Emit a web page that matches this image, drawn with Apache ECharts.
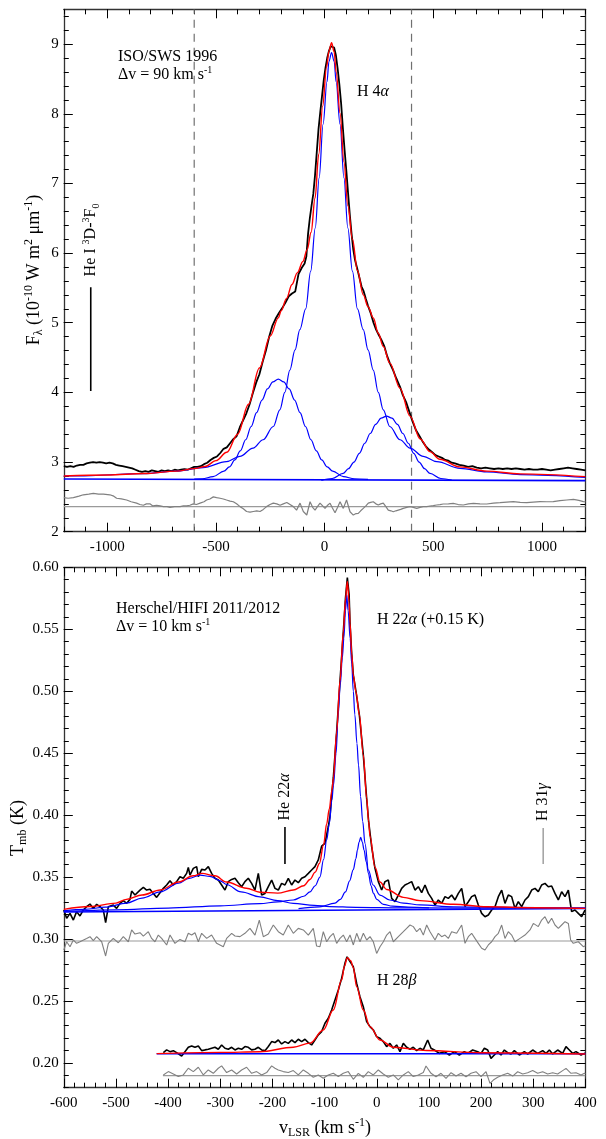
<!DOCTYPE html>
<html>
<head>
<meta charset="utf-8">
<title>H 4alpha / H 22alpha line profiles</title>
<script src="https://cdn.jsdelivr.net/npm/echarts@6.0.0/dist/echarts.min.js"></script>
<style>
  html, body { margin: 0; padding: 0; background: #fff; }
  #main { width: 606px; height: 1139px; }
</style>
</head>
<body>
<div id="main"></div>
<script>
// ---------- top panel : ISO/SWS 1996, H 4alpha ----------
var isoObs = [[-1200,2.94],[-1185,2.93],[-1170,2.94],[-1155,2.93],[-1140,2.95],[-1125,2.96],[-1110,2.96],[-1095,2.98],[-1080,2.99],[-1065,3.00],[-1050,2.99],[-1035,3.00],[-1020,2.99],[-1005,2.98],[-990,2.99],[-975,2.98],[-960,2.96],[-945,2.95],[-930,2.94],[-915,2.93],[-900,2.92],[-885,2.91],[-870,2.89],[-855,2.87],[-840,2.86],[-825,2.87],[-810,2.86],[-795,2.88],[-780,2.87],[-765,2.86],[-750,2.88],[-735,2.87],[-720,2.88],[-705,2.87],[-690,2.89],[-675,2.88],[-660,2.89],[-645,2.90],[-630,2.89],[-615,2.91],[-600,2.93],[-585,2.93],[-570,2.94],[-555,2.97],[-540,2.99],[-525,3.03],[-510,3.06],[-495,3.08],[-480,3.13],[-465,3.19],[-450,3.21],[-435,3.27],[-420,3.33],[-405,3.37],[-390,3.50],[-375,3.60],[-360,3.70],[-345,3.83],[-330,3.99],[-315,4.14],[-300,4.26],[-285,4.44],[-270,4.60],[-255,4.80],[-240,4.96],[-225,5.06],[-210,5.14],[-195,5.21],[-180,5.29],[-165,5.38],[-150,5.42],[-135,5.45],[-120,5.70],[-105,5.79],[-92,5.85],[-84,5.95],[-76,6.28],[-68,6.50],[-60,6.68],[-52,6.85],[-44,7.12],[-36,7.45],[-28,7.78],[-20,8.02],[-12,8.25],[-4,8.48],[4,8.66],[12,8.80],[20,8.90],[28,8.97],[36,8.99],[44,8.95],[52,8.84],[60,8.65],[68,8.42],[76,8.15],[84,7.80],[92,7.48],[100,7.18],[108,6.86],[116,6.55],[124,6.28],[132,6.05],[140,5.90],[150,5.78],[160,5.65],[170,5.52],[180,5.45],[190,5.34],[200,5.24],[213,5.13],[225,5.00],[237,4.90],[250,4.82],[262,4.75],[275,4.66],[288,4.52],[300,4.42],[315,4.32],[330,4.20],[347,4.08],[360,3.96],[375,3.86],[390,3.72],[405,3.58],[420,3.46],[435,3.38],[450,3.30],[465,3.23],[480,3.18],[495,3.14],[510,3.10],[525,3.08],[540,3.06],[555,3.03],[570,3.02],[585,2.99],[600,2.98],[620,2.96],[640,2.95],[660,2.93],[680,2.94],[700,2.92],[720,2.91],[740,2.92],[760,2.91],[780,2.90],[800,2.91],[820,2.90],[840,2.91],[860,2.90],[880,2.91],[900,2.90],[920,2.89],[940,2.90],[960,2.89],[980,2.89],[1000,2.90],[1020,2.89],[1040,2.88],[1060,2.89],[1080,2.90],[1100,2.91],[1120,2.92],[1140,2.91],[1160,2.90],[1180,2.89],[1200,2.88]];
var isoFit = [[-1200,2.80],[-1000,2.815],[-830,2.835],[-680,2.87],[-600,2.905],[-550,2.935],[-500,3.02],[-450,3.14],[-400,3.40],[-350,3.83],[-300,4.35],[-250,4.81],[-213,5.07],[-200,5.17],[-175,5.35],[-150,5.55],[-125,5.72],[-100,5.88],[-80,6.05],[-62,6.30],[-44,6.79],[-27,7.42],[-9,8.11],[9,8.67],[20,8.90],[32,9.02],[44,8.89],[53,8.60],[71,8.01],[89,7.31],[107,6.68],[128,6.20],[151,5.75],[178,5.40],[200,5.23],[224,5.07],[247,4.85],[270,4.66],[300,4.42],[347,4.06],[393,3.66],[440,3.33],[485,3.15],[530,3.04],[623,2.93],[746,2.87],[900,2.83],[1200,2.79]];
var isoCore = [[-1200,2.80],[-1136,2.80],[-836,2.835],[-682,2.87],[-559,2.92],[-452,3.005],[-390,3.08],[-329,3.20],[-283,3.32],[-236,3.51],[-206,3.75],[-183,4.00],[-160,4.32],[-136,4.61],[-114,4.90],[-87,5.20],[-64,5.74],[-43,6.36],[-25,7.08],[-7,7.85],[11,8.46],[20,8.75],[32,8.88],[44,8.75],[53,8.46],[71,7.85],[89,7.08],[107,6.36],[128,5.74],[151,5.20],[178,4.90],[200,4.61],[224,4.32],[247,4.00],[270,3.75],[300,3.51],[347,3.32],[393,3.20],[454,3.08],[516,3.005],[623,2.91],[746,2.86],[900,2.82],[1200,2.78]];
var isoBlue = [[-600,2.755],[-563,2.76],[-513,2.79],[-463,2.87],[-438,2.93],[-413,3.03],[-388,3.16],[-363,3.32],[-338,3.51],[-313,3.71],[-288,3.89],[-263,4.05],[-238,4.15],[-213,4.19],[-188,4.15],[-163,4.05],[-138,3.89],[-113,3.71],[-88,3.51],[-63,3.32],[-38,3.16],[-13,3.03],[12,2.93],[37,2.87],[87,2.79],[137,2.76],[200,2.752]];
var isoRed = [[-15,2.737],[35,2.764],[85,2.836],[110,2.905],[135,3.00],[160,3.125],[185,3.27],[210,3.41],[235,3.54],[260,3.63],[285,3.66],[310,3.63],[335,3.54],[360,3.41],[385,3.27],[410,3.125],[435,3.00],[460,2.905],[485,2.836],[535,2.764],[585,2.74]];
var isoBase = [[-1200,2.757],[1200,2.733]];
var isoResid = [[-1200,2.49],[-1180,2.48],[-1156,2.49],[-1130,2.51],[-1110,2.53],[-1085,2.54],[-1064,2.55],[-1040,2.54],[-1018,2.54],[-988,2.53],[-970,2.51],[-957,2.48],[-935,2.47],[-911,2.455],[-890,2.43],[-865,2.41],[-850,2.39],[-834,2.38],[-820,2.40],[-804,2.40],[-790,2.37],[-773,2.38],[-757,2.37],[-742,2.36],[-725,2.36],[-711,2.35],[-690,2.36],[-665,2.36],[-650,2.37],[-635,2.37],[-620,2.38],[-604,2.40],[-590,2.39],[-573,2.41],[-555,2.43],[-543,2.455],[-528,2.47],[-512,2.50],[-497,2.49],[-481,2.48],[-466,2.47],[-451,2.455],[-435,2.44],[-420,2.43],[-405,2.40],[-389,2.36],[-374,2.33],[-359,2.29],[-343,2.28],[-328,2.29],[-312,2.30],[-297,2.29],[-282,2.32],[-267,2.36],[-251,2.39],[-236,2.41],[-220,2.40],[-205,2.38],[-190,2.40],[-174,2.42],[-159,2.39],[-144,2.36],[-129,2.31],[-113,2.41],[-98,2.29],[-82,2.24],[-67,2.43],[-55,2.35],[-44,2.31],[-33,2.36],[-21,2.41],[2,2.335],[14,2.38],[25,2.41],[36,2.34],[48,2.273],[60,2.35],[71,2.43],[86,2.335],[101,2.455],[117,2.287],[132,2.239],[145,2.26],[155,2.263],[166,2.30],[178,2.335],[190,2.37],[201,2.41],[212,2.42],[224,2.43],[236,2.40],[247,2.383],[258,2.40],[270,2.41],[282,2.36],[293,2.31],[305,2.30],[316,2.287],[328,2.30],[339,2.31],[350,2.32],[362,2.335],[378,2.35],[393,2.359],[408,2.35],[424,2.335],[439,2.35],[454,2.359],[470,2.36],[485,2.369],[500,2.375],[516,2.383],[531,2.39],[546,2.398],[570,2.40],[592,2.407],[615,2.39],[638,2.383],[662,2.40],[685,2.407],[715,2.40],[746,2.398],[777,2.41],[807,2.417],[838,2.425],[868,2.431],[900,2.42],[930,2.417],[960,2.425],[991,2.431],[1022,2.43],[1052,2.431],[1083,2.445],[1114,2.455],[1145,2.465],[1170,2.45],[1191,2.431],[1200,2.43]];
var isoResidZero = [[-1200,2.36],[1200,2.36]];
var isoWindowLeft = [[-600,2],[-600,9.5]];
var isoWindowRight = [[400,2],[400,9.5]];
var heIMark = [[-1076,4.02],[-1076,5.51]];

// ---------- bottom panel : Herschel/HIFI, H 22alpha (+0.15 K) and H 28beta ----------
var h22Obs = [[-600,0.3234],[-594.5,0.3167],[-588.1,0.3207],[-581.7,0.3153],[-575.4,0.3221],[-569,0.3186],[-562.6,0.3234],[-556.2,0.3261],[-549.8,0.3282],[-543.4,0.3247],[-537,0.328],[-530.6,0.3261],[-524.2,0.3234],[-519.8,0.3132],[-514.6,0.3261],[-505.1,0.3274],[-498.7,0.3247],[-492.3,0.3288],[-485.9,0.3309],[-479.5,0.3288],[-473.1,0.332],[-469.9,0.3387],[-463.5,0.3355],[-453.9,0.3395],[-447.5,0.3417],[-441.2,0.3395],[-434.8,0.3401],[-428.4,0.3368],[-422,0.3336],[-415.6,0.3374],[-409.2,0.3409],[-402.8,0.3436],[-396.4,0.3471],[-390,0.3436],[-383.7,0.3463],[-377.3,0.3503],[-370.9,0.349],[-364.5,0.353],[-361.3,0.3578],[-358.1,0.3516],[-351.7,0.357],[-345.3,0.3584],[-342.1,0.3503],[-335.7,0.3562],[-329.3,0.3557],[-322.9,0.3584],[-316.6,0.353],[-310.2,0.349],[-303.8,0.3476],[-297.4,0.3436],[-291,0.3395],[-284.6,0.3463],[-278.2,0.3481],[-271.8,0.349],[-265.4,0.3455],[-259.1,0.3422],[-252.7,0.3463],[-246.3,0.349],[-239.9,0.3449],[-233.5,0.3395],[-227.1,0.353],[-220.7,0.3355],[-214.3,0.3368],[-207.9,0.3422],[-201.5,0.3476],[-195.1,0.3409],[-188.7,0.3395],[-182.4,0.3449],[-176,0.3436],[-169.6,0.349],[-163.2,0.3436],[-156.8,0.3476],[-150.4,0.3455],[-144,0.349],[-137.6,0.3503],[-131.2,0.353],[-124.9,0.3557],[-118.5,0.3584],[-112.1,0.3638],[-105.7,0.375],[-99.3,0.3772],[-96,0.377],[-92.8,0.391],[-89.7,0.399],[-86.5,0.416],[-83.3,0.43],[-76.9,0.467],[-70.5,0.508],[-64.1,0.548],[-60,0.575],[-56.4,0.5917],[-53,0.578],[-51.3,0.555],[-48,0.53],[-44.9,0.513],[-39.8,0.4997],[-33.4,0.481],[-25.8,0.4486],[-19.4,0.4136],[-15.6,0.395],[-9.8,0.3745],[-3.4,0.357],[3,0.3463],[9.4,0.3395],[15.8,0.3463],[22.2,0.3476],[28.6,0.3328],[35,0.3301],[41.4,0.3355],[47.8,0.3409],[54.1,0.3436],[60.5,0.3449],[66.9,0.3463],[73.3,0.3395],[79.7,0.3422],[86.1,0.3374],[92.5,0.3436],[98.9,0.3368],[105.3,0.3328],[111.7,0.3274],[118,0.3315],[124.4,0.3288],[130.8,0.3342],[137.2,0.3328],[143.6,0.3355],[150,0.3315],[156.4,0.3368],[162.8,0.3409],[169.2,0.3261],[175.6,0.3301],[181.9,0.3342],[188.3,0.3355],[194.7,0.3274],[201.1,0.3207],[207.5,0.318],[213.9,0.3194],[220.3,0.3234],[226.7,0.3261],[233.1,0.3342],[239.5,0.3395],[245.8,0.3288],[252.2,0.3355],[258.6,0.3342],[265,0.3247],[271.4,0.3301],[277.8,0.3261],[284.2,0.3315],[290.6,0.3342],[297,0.3395],[303.4,0.3409],[309.7,0.3382],[316.1,0.3436],[322.5,0.3449],[328.9,0.3422],[335.3,0.3428],[341.7,0.3368],[348.1,0.3315],[354.5,0.3382],[360.9,0.3342],[367.3,0.3395],[373.6,0.3221],[380,0.3234],[386.4,0.3207],[392.8,0.318],[399.2,0.3234],[400,0.3232]];
var h22Fit = [[-600,0.3239],[-550,0.3262],[-500,0.329],[-480,0.332],[-450,0.3355],[-415,0.3396],[-380,0.346],[-352,0.351],[-335,0.353],[-310,0.351],[-288,0.346],[-250,0.341],[-224,0.3378],[-190,0.337],[-160,0.3396],[-140,0.343],[-128,0.348],[-118,0.354],[-110,0.361],[-102,0.376],[-96,0.393],[-91,0.405],[-86,0.42],[-83,0.43],[-77,0.467],[-70.5,0.508],[-64,0.548],[-60,0.574],[-56.4,0.5885],[-53,0.572],[-51.3,0.555],[-48,0.53],[-45,0.513],[-40,0.4997],[-33.4,0.481],[-25.8,0.4486],[-19.4,0.4136],[-15.6,0.395],[-13,0.383],[-3.4,0.358],[6.2,0.346],[19,0.34],[51,0.3336],[83,0.331],[147,0.328],[211,0.326],[300,0.3252],[400,0.3247]];
var h22Core = [[-600,0.3222],[-500,0.3235],[-400,0.325],[-300,0.3268],[-224,0.3285],[-190,0.33],[-160,0.3315],[-140,0.3345],[-128,0.338],[-118,0.343],[-109,0.35],[-102,0.364],[-96,0.38],[-91,0.393],[-86,0.412],[-83,0.424],[-78,0.45],[-74,0.481],[-70,0.505],[-66,0.527],[-63,0.543],[-60,0.565],[-57.5,0.5777],[-55,0.565],[-51,0.5427],[-48,0.522],[-45,0.5],[-42,0.481],[-38,0.458],[-35,0.4405],[-31,0.415],[-27,0.395],[-22.5,0.377],[-16,0.3557],[-7,0.3436],[6,0.3355],[25,0.3315],[51,0.329],[83,0.3275],[147,0.326],[250,0.3255],[400,0.325]];
var h22Narrow = [[-150,0.3245],[-110,0.326],[-80,0.329],[-70,0.332],[-60,0.338],[-52,0.347],[-45,0.356],[-40,0.365],[-37,0.372],[-34,0.378],[-30.8,0.382],[-27.5,0.378],[-24.5,0.372],[-20,0.362],[-16,0.353],[-11,0.343],[-6.6,0.337],[0,0.332],[12.6,0.328],[30,0.3265],[60,0.3258],[100,0.3252]];
var h22Wing = [[-600,0.3228],[-560,0.324],[-520,0.3257],[-480,0.329],[-450,0.333],[-415,0.338],[-380,0.345],[-360,0.349],[-339,0.3516],[-320,0.3505],[-300,0.347],[-288,0.344],[-260,0.338],[-224,0.334],[-190,0.331],[-160,0.3288],[-120,0.3272],[-90,0.3262],[-40,0.3256],[50,0.3252],[150,0.325],[400,0.3249]];
var h22Base = [[-600,0.3218],[400,0.3247]];
var h22Resid = [[-600,0.2911],[-594.5,0.2978],[-588.1,0.2938],[-581.7,0.2992],[-575.4,0.2965],[-569,0.2978],[-556.2,0.3005],[-549.8,0.3019],[-543.4,0.2987],[-537,0.3019],[-527.4,0.2978],[-519.8,0.2863],[-514.6,0.2965],[-505.1,0.3005],[-495.5,0.297],[-485.9,0.3019],[-476.3,0.2978],[-469.9,0.3073],[-463.5,0.304],[-453.9,0.3051],[-447.5,0.3024],[-438,0.3059],[-431.6,0.3005],[-425.2,0.2978],[-418.8,0.3032],[-412.4,0.3005],[-402.8,0.2952],[-396.4,0.3032],[-386.9,0.2965],[-377.3,0.2997],[-367.7,0.2978],[-361.3,0.3046],[-354.9,0.3032],[-348.5,0.3051],[-342.1,0.2978],[-335.7,0.3046],[-326.1,0.3005],[-316.6,0.3032],[-307,0.2965],[-294.2,0.2938],[-287.8,0.3005],[-278.2,0.3046],[-271.8,0.3024],[-262.2,0.3019],[-252.7,0.3046],[-243.1,0.3086],[-233.5,0.3032],[-225.2,0.3153],[-217.5,0.3019],[-207.9,0.304],[-198.3,0.3113],[-188.7,0.3059],[-179.2,0.3032],[-169.6,0.3113],[-160,0.3046],[-150.4,0.3086],[-140.8,0.3073],[-131.2,0.3032],[-121.7,0.3086],[-115.3,0.2943],[-108.9,0.2938],[-102.5,0.3059],[-96,0.2978],[-89.6,0.3019],[-83.2,0.3046],[-76.9,0.2965],[-70.5,0.3005],[-64.1,0.3032],[-57.7,0.2978],[-51.3,0.3032],[-44.9,0.2952],[-38.5,0.3046],[-32.1,0.2978],[-25.7,0.3046],[-19.3,0.2992],[-12.9,0.3019],[-6.6,0.2978],[-0.2,0.2884],[6.2,0.2938],[12.6,0.2978],[19,0.3032],[25.4,0.3059],[31.8,0.2978],[41.4,0.3019],[51,0.3059],[57.3,0.3086],[63.7,0.3113],[70.1,0.31],[76.5,0.3059],[82.9,0.3086],[89.3,0.3032],[95.7,0.3113],[102.1,0.3059],[111.7,0.2992],[118,0.3046],[124.4,0.3019],[130.8,0.3032],[137.2,0.3005],[143.6,0.3059],[153.2,0.3046],[162.8,0.3113],[169.2,0.2965],[175.6,0.3019],[181.9,0.3046],[188.3,0.3005],[194.7,0.2965],[201.1,0.2925],[207.5,0.2911],[213.9,0.2952],[220.3,0.2978],[226.7,0.3019],[233.1,0.3046],[239.5,0.3113],[245.8,0.3005],[252.2,0.3059],[258.6,0.3032],[265,0.2978],[274.6,0.3005],[284.2,0.3032],[293.8,0.3073],[300.2,0.3126],[309.7,0.31],[316.1,0.3153],[322.5,0.318],[328.9,0.3126],[335.3,0.3167],[341.7,0.3113],[348.1,0.3086],[354.5,0.3113],[360.9,0.314],[367.3,0.3126],[371.7,0.2992],[376.8,0.2965],[386.4,0.2978],[396,0.2938],[400,0.2945]];
var h22ResidZero = [[-600,0.2984],[400,0.2984]];

var h28Obs = [[-409.2,0.2083],[-402.8,0.2105],[-396.4,0.2091],[-390,0.2099],[-383.7,0.2083],[-374.1,0.2056],[-367.7,0.2091],[-361.3,0.2126],[-354.9,0.2137],[-348.5,0.2126],[-342.1,0.2137],[-335.7,0.2099],[-329.3,0.2105],[-323,0.211],[-316.6,0.2118],[-310.2,0.2126],[-303.8,0.211],[-297.4,0.2145],[-291,0.2118],[-284.6,0.211],[-278.2,0.2126],[-271.8,0.2105],[-265.4,0.2118],[-259.1,0.211],[-252.7,0.2132],[-246.3,0.2126],[-239.9,0.2105],[-233.5,0.211],[-227.1,0.2126],[-220.7,0.2105],[-214.3,0.2099],[-207.9,0.2132],[-201.5,0.2172],[-195.2,0.2164],[-188.8,0.2185],[-182.4,0.2153],[-176,0.2172],[-169.6,0.2158],[-163.2,0.2185],[-156.8,0.2164],[-150.4,0.2191],[-144,0.2172],[-137.6,0.2191],[-131.2,0.2164],[-124.9,0.2145],[-118.5,0.2185],[-112.1,0.2226],[-105.7,0.2253],[-99.3,0.232],[-92.9,0.236],[-86.5,0.2427],[-80.1,0.2508],[-73.7,0.2589],[-67.3,0.2683],[-61,0.2804],[-57,0.2856],[-54,0.2845],[-50,0.281],[-45,0.2777],[-38.6,0.2643],[-32.2,0.2535],[-25.8,0.2454],[-19.4,0.2333],[-13,0.2293],[-6.6,0.2266],[-0.3,0.2212],[6.1,0.2199],[12.5,0.2172],[18.9,0.2132],[25.3,0.2158],[31.7,0.2118],[38.1,0.2145],[44.5,0.2091],[50.9,0.2158],[57.3,0.2126],[63.7,0.211],[70,0.2126],[76.4,0.2099],[82.8,0.2118],[89.2,0.2105],[97.6,0.2185],[104,0.2118],[110.4,0.2104],[120,0.2077],[129.6,0.2091],[139.2,0.2064],[148.8,0.2091],[158.3,0.2064],[167.9,0.2091],[174.3,0.2077],[183.9,0.2104],[193.5,0.2091],[199.9,0.2077],[206.3,0.2118],[212.7,0.2104],[219,0.2037],[225.4,0.2064],[231.8,0.2091],[238.2,0.2064],[244.6,0.2104],[251,0.2083],[257.4,0.2072],[263.8,0.2099],[273.4,0.2064],[282.9,0.2091],[289.3,0.2072],[298.9,0.2104],[308.5,0.2077],[318.1,0.2099],[324.5,0.2077],[330.9,0.2104],[337.3,0.2072],[346.8,0.2104],[356.4,0.2077],[362.8,0.2131],[369.2,0.2104],[375.6,0.2077],[382,0.2091],[391.6,0.2064],[398,0.2077],[400,0.2075]];
var h28Fit = [[-422,0.2075],[-300,0.2085],[-224,0.209],[-160,0.2126],[-128,0.216],[-102.5,0.2266],[-83.3,0.2427],[-67.3,0.267],[-62,0.278],[-56.5,0.285],[-50,0.2825],[-45,0.277],[-38.6,0.2616],[-25.8,0.2427],[-13,0.2293],[6.1,0.2185],[31.7,0.2126],[95.6,0.21],[200,0.2082],[400,0.2072]];
var h28Base = [[-422,0.2073],[400,0.2073]];
var h28Resid = [[-409.2,0.1903],[-399.6,0.193],[-390,0.1911],[-380.5,0.189],[-370.9,0.1903],[-361.3,0.1957],[-351.7,0.193],[-342.1,0.1965],[-332.5,0.1903],[-323,0.1943],[-313.4,0.1916],[-303.8,0.1957],[-297.4,0.1976],[-287.8,0.1922],[-278.2,0.1943],[-268.6,0.1911],[-259.1,0.1943],[-249.5,0.1965],[-239.9,0.1916],[-230.3,0.193],[-220.7,0.1903],[-211.1,0.1922],[-201.5,0.1976],[-195.2,0.1957],[-188.8,0.1943],[-179.2,0.193],[-169.6,0.1922],[-160,0.1938],[-150.4,0.1903],[-140.8,0.1943],[-131.2,0.1916],[-121.7,0.1884],[-112.1,0.1903],[-102.5,0.1876],[-92.9,0.1903],[-83.3,0.1916],[-73.7,0.189],[-64.2,0.1916],[-54.6,0.193],[-45,0.1868],[-35.4,0.1916],[-25.8,0.1884],[-16.2,0.193],[-6.6,0.1903],[3,0.1943],[12.5,0.1911],[22.1,0.1884],[31.7,0.1903],[41.3,0.1863],[50.9,0.1903],[60.5,0.193],[70,0.189],[79.6,0.1903],[89.2,0.1922],[94.4,0.1975],[104,0.1916],[113.6,0.1889],[123.2,0.1916],[132.8,0.1876],[142.4,0.1921],[152,0.1894],[161.5,0.1916],[171.1,0.1889],[180.7,0.1916],[190.3,0.1929],[199.9,0.1889],[209.5,0.1929],[217.1,0.1835],[223.5,0.1862],[231.8,0.1884],[241.4,0.1903],[251,0.1916],[260.6,0.1894],[270.2,0.1929],[279.8,0.1911],[289.3,0.1921],[298.9,0.1938],[308.5,0.1916],[318.1,0.1929],[327.7,0.1911],[337.3,0.1921],[346.8,0.1911],[356.4,0.1938],[362.8,0.1956],[372.4,0.1916],[382,0.1921],[391.6,0.1903],[398,0.1916],[400,0.1912]];
var h28ResidZero = [[-410,0.1897],[400,0.1897]];

var he22Mark = [[-176,0.3605],[-176,0.3905]];
var h31Mark = [[319,0.3605],[319,0.3895]];

// tick values
var topXTicks = [-1000, -500, 0, 500, 1000];
var topYTicks = [2, 3, 4, 5, 6, 7, 8, 9];
var botXTicks = [-600, -500, -400, -300, -200, -100, 0, 100, 200, 300, 400];
var botYTicks = [0.20, 0.25, 0.30, 0.35, 0.40, 0.45, 0.50, 0.55, 0.60];

function seq(a, b, step) {
  var out = [];
  for (var v = a; v <= b + 1e-9; v += step) out.push(+v.toFixed(4));
  return out;
}

var FONT = 'Liberation Serif';
var chart = echarts.init(document.getElementById('main'));

// one axis of the frame; majors carry labels, minors are short ticks only
function axis(grid, pos, min, max, ticks, len, label, line) {
  return {
    type: 'value', gridIndex: grid, position: pos, min: min, max: max,
    axisLine: { show: !!line, onZero: false, lineStyle: { color: '#333', width: 1.3 } },
    axisTick: { show: true, inside: true, length: len, customValues: ticks, lineStyle: { color: '#000', width: 1 } },
    axisLabel: label ? Object.assign({ show: true, customValues: ticks, color: '#000', fontFamily: FONT, fontSize: 15 }, label) : { show: false },
    splitLine: { show: false }
  };
}

var xLab = { margin: 8, formatter: function (v) { return String(v); } };
var yLab = { margin: 5 };

var xAxes = [
  axis(0, 'bottom', -1200, 1200, topXTicks, 9, xLab, true),
  axis(0, 'bottom', -1200, 1200, seq(-1200, 1200, 100), 5),
  axis(0, 'top', -1200, 1200, topXTicks, 9, null, true),
  axis(0, 'top', -1200, 1200, seq(-1200, 1200, 100), 5),
  axis(1, 'bottom', -600, 400, botXTicks, 9, xLab, true),
  axis(1, 'bottom', -600, 400, seq(-600, 400, 20), 5),
  axis(1, 'top', -600, 400, botXTicks, 9, null, true),
  axis(1, 'top', -600, 400, seq(-600, 400, 20), 5)
];
var yAxes = [
  axis(0, 'left', 2, 9.5, topYTicks, 9, yLab, true),
  axis(0, 'left', 2, 9.5, seq(2, 9.4, 0.2), 5),
  axis(0, 'right', 2, 9.5, topYTicks, 9, null, true),
  axis(0, 'right', 2, 9.5, seq(2, 9.4, 0.2), 5),
  axis(1, 'left', 0.18, 0.6, botYTicks, 9, Object.assign({ formatter: function (v) { return v.toFixed(2); } }, yLab), true),
  axis(1, 'left', 0.18, 0.6, seq(0.18, 0.6, 0.01), 5),
  axis(1, 'right', 0.18, 0.6, botYTicks, 9, null, true),
  axis(1, 'right', 0.18, 0.6, seq(0.18, 0.6, 0.01), 5)
];

function line(data, color, width, panel, extra) {
  var idx = panel === 0 ? 0 : 4;
  return Object.assign({
    type: 'line', data: data, xAxisIndex: idx, yAxisIndex: idx,
    showSymbol: false, symbol: 'none', silent: true, clip: true,
    lineStyle: { color: color, width: width }, z: 3
  }, extra || {});
}
var smooth = { smooth: 0.35, smoothMonotone: 'x' };
var BLUE = '#0000ff', RED = '#ff0000', GREY = '#808080', ZERO = '#9a9a9a';

var series = [
  line(isoWindowLeft, '#707070', 1.2, 0, { lineStyle: { color: '#707070', width: 1.2, type: [8, 6] }, z: 1 }),
  line(isoWindowRight, '#707070', 1.2, 0, { lineStyle: { color: '#707070', width: 1.2, type: [8, 6] }, z: 1 }),
  line(isoResidZero, ZERO, 1.2, 0, { z: 2 }),
  line(isoResid, GREY, 1.2, 0, { z: 2 }),
  line(isoObs, '#000', 1.8, 0),
  line(isoBase, BLUE, 1.6, 0, { z: 4 }),
  line(isoBlue, BLUE, 1.2, 0, Object.assign({ z: 4 }, smooth)),
  line(isoRed, BLUE, 1.2, 0, Object.assign({ z: 4 }, smooth)),
  line(isoCore, BLUE, 1.2, 0, Object.assign({ z: 4 }, smooth)),
  line(isoFit, RED, 1.4, 0, Object.assign({ z: 5 }, smooth)),
  line(heIMark, '#000', 1.6, 0),

  line(h22ResidZero, ZERO, 1.2, 1, { z: 2 }),
  line(h22Resid, GREY, 1.1, 1, { z: 2 }),
  line(h22Obs, '#000', 1.6, 1),
  line(h22Base, BLUE, 1.5, 1, { z: 4 }),
  line(h22Wing, BLUE, 1.2, 1, Object.assign({ z: 4 }, smooth)),
  line(h22Narrow, BLUE, 1.2, 1, Object.assign({ z: 4 }, smooth)),
  line(h22Core, BLUE, 1.2, 1, Object.assign({ z: 4 }, smooth)),
  line(h22Fit, RED, 1.4, 1, Object.assign({ z: 5 }, smooth)),
  line(h28ResidZero, ZERO, 1.2, 1, { z: 2 }),
  line(h28Resid, GREY, 1.1, 1, { z: 2 }),
  line(h28Obs, '#000', 1.6, 1),
  line(h28Base, BLUE, 1.5, 1, { z: 4 }),
  line(h28Fit, RED, 1.4, 1, Object.assign({ z: 5 }, smooth)),
  line(he22Mark, '#000', 1.6, 1),
  line(h31Mark, '#888', 1.2, 1)
];

var rich = {
  b: { fontFamily: FONT, fontSize: 16, lineHeight: 20, fill: '#000' },
  i: { fontFamily: FONT, fontSize: 16, lineHeight: 20, fontStyle: 'italic', fill: '#000' },
  sup: { fontFamily: FONT, fontSize: 10, lineHeight: 10, verticalAlign: 'top', fill: '#000' },
  sub: { fontFamily: FONT, fontSize: 10, lineHeight: 10, verticalAlign: 'bottom', fill: '#000' },
  B: { fontFamily: FONT, fontSize: 18, lineHeight: 22, fill: '#000' },
  Bsup: { fontFamily: FONT, fontSize: 12, lineHeight: 11, verticalAlign: 'top', fill: '#000' },
  Bsub: { fontFamily: FONT, fontSize: 12, lineHeight: 11, verticalAlign: 'bottom', fill: '#000' }
};

function txt(x, y, text, align, rot) {
  return {
    type: 'text', x: x, y: y, rotation: rot || 0, z: 100, silent: true,
    style: { text: text, rich: rich, align: align || 'left', verticalAlign: 'middle', fontFamily: FONT, fontSize: 16, fill: '#000' }
  };
}
var UP = Math.PI / 2;

var graphics = [
  txt(118, 57, '{b|ISO/SWS 1996}'),
  txt(118, 75, '{b|\u0394v = 90 km s}{sup|-1}'),
  txt(357, 92, '{b|H 4}{i|\u03b1}'),
  txt(91, 240, '{b|He I }{sup|3}{b|D-}{sup|3}{b|F}{sub|0}', 'center', UP),
  txt(34, 270, '{B|F}{Bsub|\u03bb}{B| (10}{Bsup|-10}{B| W m}{Bsup|2}{B| \u03bcm}{Bsup|-1}{B|)}', 'center', UP),

  txt(116, 609, '{b|Herschel/HIFI 2011/2012}'),
  txt(116, 627, '{b|\u0394v = 10 km s}{sup|-1}'),
  txt(377, 620, '{b|H 22}{i|\u03b1}{b| (+0.15 K)}'),
  txt(377, 981, '{b|H 28}{i|\u03b2}'),
  txt(285, 797, '{b|He 22}{i|\u03b1}', 'center', UP),
  txt(543, 802, '{b|H 31}{i|\u03b3}', 'center', UP),
  txt(18, 828, '{B|T}{Bsub|mb}{B| (K)}', 'center', UP),
  txt(325, 1128, '{B|v}{Bsub|LSR}{B| (km s}{Bsup|-1}{B|)}', 'center')
];

var option = {
  backgroundColor: '#fff',
  animation: false,
  textStyle: { fontFamily: FONT },
  grid: [
    { left: 63.8, top: 9.3, width: 521.6, height: 522.4, outerBoundsMode: 'none' },
    { left: 63.8, top: 567.3, width: 521.6, height: 520.4, outerBoundsMode: 'none' }
  ],
  xAxis: xAxes,
  yAxis: yAxes,
  series: series,
  graphic: graphics
};
chart.setOption(option);
</script>
</body>
</html>
